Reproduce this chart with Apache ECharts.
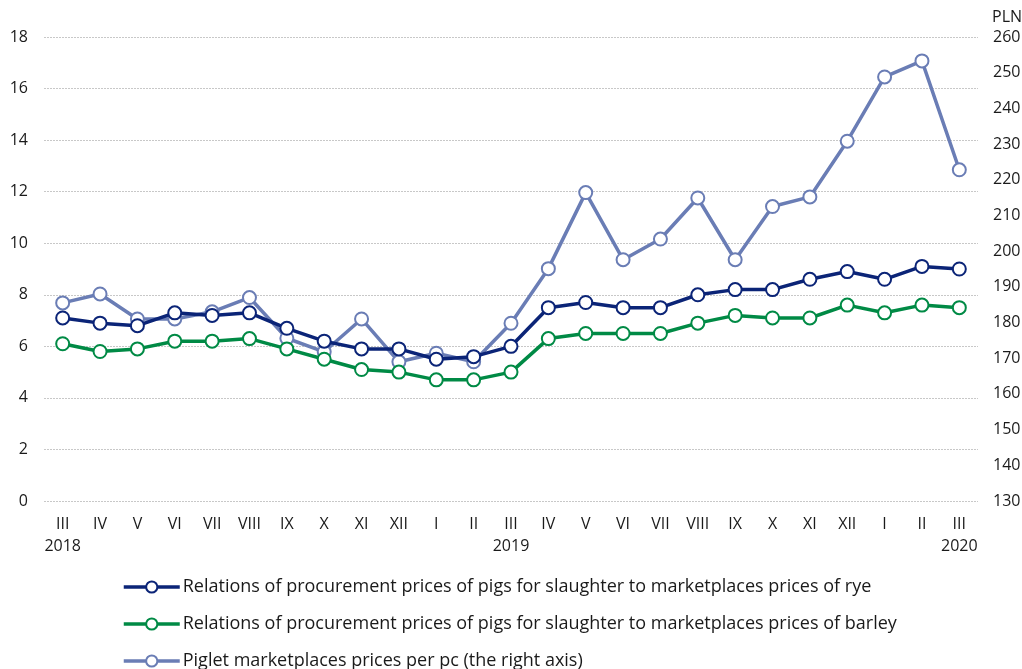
<!DOCTYPE html>
<html>
<head>
<meta charset="utf-8">
<script src="https://cdn.jsdelivr.net/npm/echarts@6/dist/echarts.min.js"></script>
<style>
  html, body { margin: 0; padding: 0; background: #fff; }
  #main { width: 1022px; height: 669px; }
</style>
</head>
<body>
<div id="main"></div>
<script>
// months (Roman numerals) and the year shown under some of them
var months = ['III', 'IV', 'V', 'VI', 'VII', 'VIII', 'IX', 'X', 'XI', 'XII', 'I', 'II',
  'III', 'IV', 'V', 'VI', 'VII', 'VIII', 'IX', 'X', 'XI', 'XII', 'I', 'II', 'III'];
var years = ['2018', '', '', '', '', '', '', '', '', '', '', '',
  '2019', '', '', '', '', '', '', '', '', '', '', '', '2020'];

var rye = [7.1, 6.9, 6.8, 7.3, 7.2, 7.3, 6.7, 6.2, 5.9, 5.9, 5.5, 5.6,
  6.0, 7.5, 7.7, 7.5, 7.5, 8.0, 8.2, 8.2, 8.6, 8.9, 8.6, 9.1, 9.0];
var barley = [6.1, 5.8, 5.9, 6.2, 6.2, 6.3, 5.9, 5.5, 5.1, 5.0, 4.7, 4.7,
  5.0, 6.3, 6.5, 6.5, 6.5, 6.9, 7.2, 7.1, 7.1, 7.6, 7.3, 7.6, 7.5];
var piglet = [185.5, 188, 181, 181, 183, 187, 175.6, 171.8, 181, 169, 171.4, 169,
  179.8, 195.1, 216.4, 197.6, 203.4, 214.9, 197.6, 212.5, 215.2, 230.8, 248.8, 253.3, 222.8];

var names = [
  'Relations of procurement prices of pigs for slaughter to marketplaces prices of rye',
  'Relations of procurement prices of pigs for slaughter to marketplaces prices of barley',
  'Piglet marketplaces prices per pc (the right axis)'
];
var colors = ['#0b2477', '#008a45', '#6a7db5'];

var categories = months.map(function (m, i) {
  return years[i] ? m + '\n' + years[i] : m;
});

var font = 'Open Sans';
var txt = '#1a1a1a';

function lineSeries(i, data, axis) {
  return {
    name: names[i],
    type: 'line',
    yAxisIndex: axis,
    data: data,
    symbol: 'emptyCircle',
    symbolSize: 13,
    showSymbol: true,
    z: 10 - i,
    lineStyle: { width: 3.5, color: colors[i] },
    itemStyle: { color: colors[i], borderColor: colors[i], borderWidth: 3.2 },
    emphasis: { disabled: true }
  };
}

var myChart = echarts.init(document.getElementById('main'));
var option = {
  animation: false,
  textStyle: { fontFamily: font },
  color: colors,
  grid: { left: 44, right: 44, top: 37, bottom: 168, outerBoundsMode: 'none', containLabel: false },
  legend: {
    orient: 'vertical',
    left: 117,
    top: 573,
    height: 120,
    itemGap: 19,
    itemWidth: 56,
    itemHeight: 14,
    lineStyle: { width: 3.5 },
    itemStyle: { borderWidth: 3 },
    textStyle: { fontFamily: font, fontSize: 18, color: txt, padding: [0, 0, 0, -2] },
    data: names
  },
  xAxis: {
    type: 'category',
    data: categories,
    boundaryGap: true,
    axisLine: { show: false },
    axisTick: { show: false },
    axisLabel: { fontFamily: font, color: txt, fontSize: 16, margin: 12, lineHeight: 22, interval: 0 }
  },
  yAxis: [
    {
      type: 'value',
      min: 0,
      max: 18,
      interval: 2,
      axisLine: { show: false },
      axisTick: { show: false },
      axisLabel: { fontFamily: font, color: txt, fontSize: 16, margin: 16 },
      splitLine: { lineStyle: { color: '#c8c8c8', type: [2, 1], width: 1 } }
    },
    {
      type: 'value',
      min: 130,
      max: 260,
      interval: 10,
      name: 'PLN',
      nameLocation: 'end',
      nameGap: 12,
      nameTextStyle: { fontFamily: font, color: txt, fontSize: 16, align: 'left', padding: [0, 0, 0, 14] },
      axisLine: { show: false },
      axisTick: { show: false },
      axisLabel: { fontFamily: font, color: txt, fontSize: 16, margin: 15 },
      splitLine: { show: false }
    }
  ],
  series: [
    lineSeries(0, rye, 0),
    lineSeries(1, barley, 0),
    lineSeries(2, piglet, 1)
  ]
};
myChart.setOption(option);
</script>
</body>
</html>
